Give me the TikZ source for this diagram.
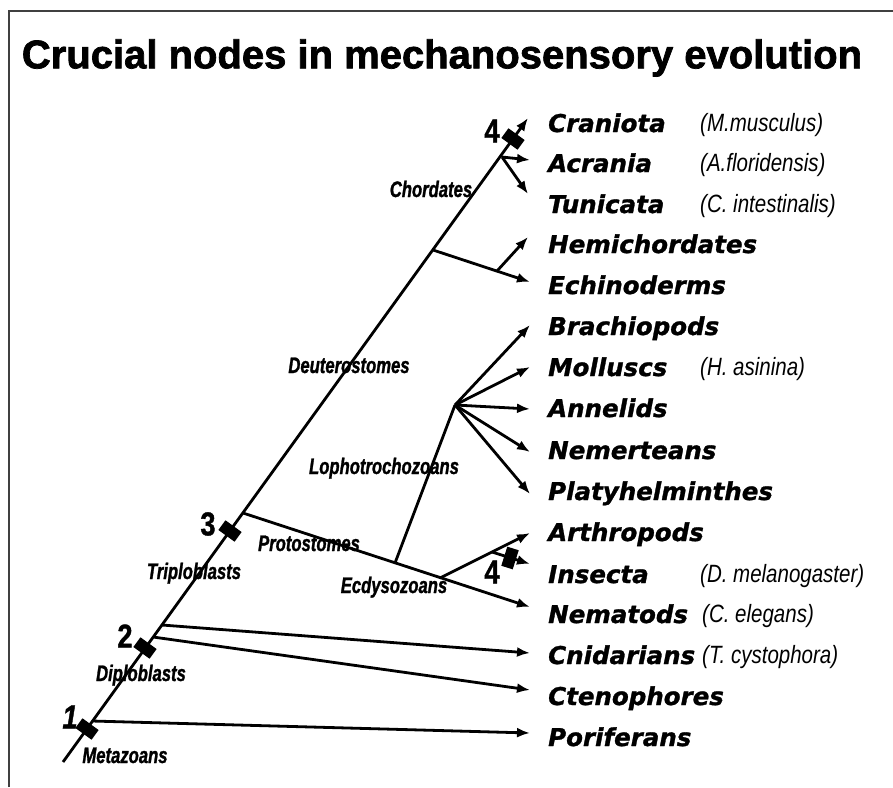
\documentclass[tikz,border=0pt]{standalone}
\usepackage{fontspec}
\setmainfont{Liberation Sans}
\newfontfamily\titlefont[FakeBold=1.8]{Liberation Sans}
\newfontfamily\taxfont[FakeBold=1.2]{DejaVu Sans}
\newfontfamily\narrowfont[FakeStretch=0.82]{Liberation Sans}
\newfontfamily\cladefont[FakeStretch=0.74,FakeBold=1.2]{Liberation Sans}
\newfontfamily\numfont[FakeStretch=0.82,FakeBold=1.2]{Liberation Sans}
\usetikzlibrary{arrows.meta}
\tikzset{
  frameline/.style={line width=1.5pt, black!75},
  branch/.style={line width=2.8pt, -{Latex[length=13pt,width=10pt]}},
  plainbranch/.style={line width=2.8pt},
  tax/.style={anchor=base west, inner sep=0pt, font=\taxfont\bfseries\itshape\fontsize{24.5}{26}\selectfont},
  species/.style={anchor=base west, inner sep=0pt, font=\narrowfont\itshape\fontsize{25}{27}\selectfont},
  clade/.style={anchor=base, inner sep=0pt, font=\cladefont\bfseries\itshape\fontsize{22.5}{24}\selectfont},
  num/.style={inner sep=0pt, font=\numfont\bfseries\fontsize{33}{35}\selectfont},
  marker/.style={fill=black, inner sep=0pt, minimum width=12pt, minimum height=20pt},
  titletext/.style={inner sep=0pt, font=\titlefont\bfseries\fontsize{40}{44}\selectfont}
}
\begin{document}
\begin{tikzpicture}[x=1pt,y=-1pt]
\useasboundingbox (0,0) rectangle (893,787);
% frame
\coordinate (fbl) at (9,787);
\coordinate (ftl) at (9,11);
\coordinate (ftr) at (893,11);
\draw[frameline] (fbl) -- (ftl) -- (ftr);
% title
\node[titletext] (title) at (442,58) {Crucial nodes in mechanosensory evolution};

% coordinates
\coordinate (root) at (63,762);
\coordinate (cranTip) at (528,118);
\coordinate (chord) at (502,157);
\coordinate (acrTip) at (530,160);
\coordinate (tunTip) at (528,194);
\coordinate (deut) at (433,250);
\coordinate (echTip) at (530,282);
\coordinate (hemiBase) at (497,271);
\coordinate (hemiTip) at (528,237);
\coordinate (prot) at (243,513);
\coordinate (nemTip) at (530,607);
\coordinate (lophBase) at (395,563);
\coordinate (loph) at (455,405);
\coordinate (brachTip) at (530,325);
\coordinate (mollTip) at (530,367);
\coordinate (annTip) at (530,409);
\coordinate (nemertTip) at (530,452);
\coordinate (platyTip) at (530,494);
\coordinate (ecdy) at (440,578);
\coordinate (arthTip) at (530,533);
\coordinate (insBase) at (492,552);
\coordinate (insTip) at (530,564);
\coordinate (cnidBase) at (162,625);
\coordinate (cnidTip) at (530,653);
\coordinate (ctenBase) at (153,637);
\coordinate (ctenTip) at (530,690);
\coordinate (porBase) at (92,721);
\coordinate (porTip) at (530,733);

% branches
\draw[branch] (root) -- (cranTip);
\draw[branch] (chord) -- (acrTip);
\draw[branch] (chord) -- (tunTip);
\draw[branch] (deut) -- (echTip);
\draw[branch] (hemiBase) -- (hemiTip);
\draw[branch] (prot) -- (nemTip);
\draw[plainbranch] (lophBase) -- (loph);
\draw[branch] (loph) -- (brachTip);
\draw[branch] (loph) -- (mollTip);
\draw[branch] (loph) -- (annTip);
\draw[branch] (loph) -- (nemertTip);
\draw[branch] (loph) -- (platyTip);
\draw[branch] (ecdy) -- (arthTip);
\draw[branch] (insBase) -- (insTip);
\draw[branch] (cnidBase) -- (cnidTip);
\draw[branch] (ctenBase) -- (ctenTip);
\draw[branch] (porBase) -- (porTip);

% markers
\node[marker, rotate=54] (m1) at (87,729) {};
\node[marker, rotate=54] (m2) at (145,648) {};
\node[marker, rotate=54] (m3) at (230,531) {};
\node[marker, rotate=54] (m4) at (513,139) {};
\node[marker, rotate=-17.5] (m5) at (510,558) {};

% numbers
\node[num, font=\numfont\bfseries\itshape\fontsize{33}{35}\selectfont] (n1) at (70,717) {1};
\node[num] (n2) at (125,636) {2};
\node[num] (n3) at (208,524) {3};
\node[num] (n4) at (492,131) {4};
\node[num] (n5) at (492,572) {4};

% clade labels
\node[clade] (lChord) at (431,197) {Chordates};
\node[clade] (lDeut) at (349,373) {Deuterostomes};
\node[clade] (lLoph) at (384,474) {Lophotrochozoans};
\node[clade] (lProt) at (309,551) {Protostomes};
\node[clade] (lEcdy) at (394,593) {Ecdysozoans};
\node[clade] (lTrip) at (194,579) {Triploblasts};
\node[clade] (lDipl) at (141,681) {Diploblasts};
\node[clade] (lMeta) at (125,763) {Metazoans};

% taxa
\node[tax] (tCran) at (548,132) {Craniota};
\node[tax] (tAcr) at (548,172) {Acrania};
\node[tax] (tTun) at (548,213) {Tunicata};
\node[tax] (tHemi) at (548,253) {Hemichordates};
\node[tax] (tEch) at (548,294) {Echinoderms};
\node[tax] (tBrach) at (548,335) {Brachiopods};
\node[tax] (tMoll) at (548,376) {Molluscs};
\node[tax] (tAnn) at (548,417) {Annelids};
\node[tax] (tNemert) at (548,459) {Nemerteans};
\node[tax] (tPlaty) at (548,500) {Platyhelminthes};
\node[tax] (tArth) at (548,541) {Arthropods};
\node[tax] (tIns) at (548,583) {Insecta};
\node[tax] (tNem) at (548,623) {Nematods};
\node[tax] (tCnid) at (548,664) {Cnidarians};
\node[tax] (tCten) at (548,705) {Ctenophores};
\node[tax] (tPor) at (548,746) {Poriferans};

% species
\node[species] (sCran) at (700,131) {(M.musculus)};
\node[species] (sAcr) at (700,171) {(A.floridensis)};
\node[species] (sTun) at (700,212) {(C. intestinalis)};
\node[species] (sMoll) at (700,375) {(H. asinina)};
\node[species] (sIns) at (700,582) {(D. melanogaster)};
\node[species] (sNem) at (702,622) {(C. elegans)};
\node[species] (sCnid) at (702,663) {(T. cystophora)};
\end{tikzpicture}
\end{document}
